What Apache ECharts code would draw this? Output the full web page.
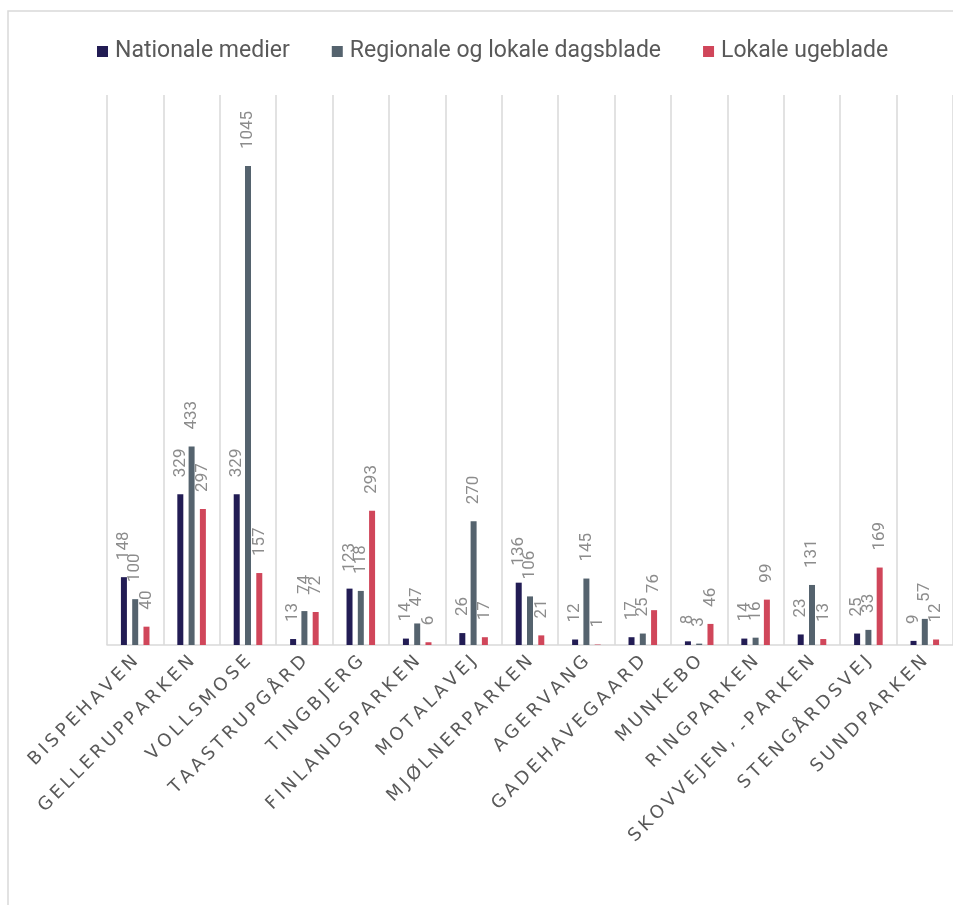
<!DOCTYPE html>
<html>
<head>
<meta charset="utf-8">
<script src="https://cdn.jsdelivr.net/npm/echarts@6/dist/echarts.min.js"></script>
<style>
  html, body { margin: 0; padding: 0; background: #fff; }
  #main { width: 953px; height: 905px; }
</style>
</head>
<body>
<div id="main"></div>
<script>
var categories = ['BISPEHAVEN', 'GELLERUPPARKEN', 'VOLLSMOSE', 'TAASTRUPGÅRD', 'TINGBJERG',
  'FINLANDSPARKEN', 'MOTALAVEJ', 'MJØLNERPARKEN', 'AGERVANG', 'GADEHAVEGAARD',
  'MUNKEBO', 'RINGPARKEN', 'SKOVVEJEN, -PARKEN', 'STENGÅRDSVEJ', 'SUNDPARKEN'];
var seriesNames = ['Nationale medier', 'Regionale og lokale dagsblade', 'Lokale ugeblade'];
var nationale = [148, 329, 329, 13, 123, 14, 26, 136, 12, 17, 8, 14, 23, 25, 9];
var regionale = [100, 433, 1045, 74, 118, 47, 270, 106, 145, 25, 3, 16, 131, 33, 57];
var ugeblade = [40, 297, 157, 72, 293, 6, 17, 21, 1, 76, 46, 99, 13, 169, 12];
var colors = ['#221c54', '#55636e', '#d0465a'];

// 基于准备好的dom，初始化echarts实例
var myChart = echarts.init(document.getElementById('main'));

function makeSeries(name, data, color) {
  return {
    name: name,
    type: 'bar',
    data: data,
    barWidth: 6,
    barGap: '88%',
    itemStyle: { color: color },
    label: {
      show: true,
      position: 'top',
      rotate: 90,
      align: 'left',
      verticalAlign: 'middle',
      distance: 17,
      color: '#8c8c8c',
      fontSize: 17,
      fontFamily: 'Roboto'
    }
  };
}

myChart.setOption({
  animation: false,
  color: colors,
  graphic: [{
    type: 'rect',
    shape: { x: 8, y: 11, width: 1000, height: 1000 },
    style: { fill: 'none', stroke: '#d9d9d9', lineWidth: 1.5 },
    silent: true
  }],
  legend: {
    left: 97,
    top: 40,
    padding: 0,
    icon: 'rect',
    itemWidth: 11,
    itemHeight: 11,
    itemGap: 42,
    textStyle: { fontSize: 23, color: '#595959', fontFamily: 'Roboto', padding: [0, 0, 0, 2] },
    data: seriesNames
  },
  grid: { left: 107, top: 95, width: 851, height: 550 },
  xAxis: {
    type: 'category',
    data: categories,
    axisTick: { show: false },
    axisLine: { lineStyle: { color: '#d9d9d9', width: 1.5 } },
    splitLine: { show: true, interval: 0, lineStyle: { color: '#d9d9d9', width: 1.5 } },
    axisLabel: {
      interval: 0,
      rotate: 45,
      margin: 14,
      color: '#595959',
      fontSize: 18,
      fontFamily: 'DejaVu Sans',
      formatter: function (v) { return v.split('').join('\u2009'); }
    }
  },
  yAxis: {
    type: 'value',
    min: 0,
    max: 1200,
    show: false,
    splitLine: { show: false }
  },
  series: [
    makeSeries(seriesNames[0], nationale, colors[0]),
    makeSeries(seriesNames[1], regionale, colors[1]),
    makeSeries(seriesNames[2], ugeblade, colors[2])
  ]
});
</script>
</body>
</html>
